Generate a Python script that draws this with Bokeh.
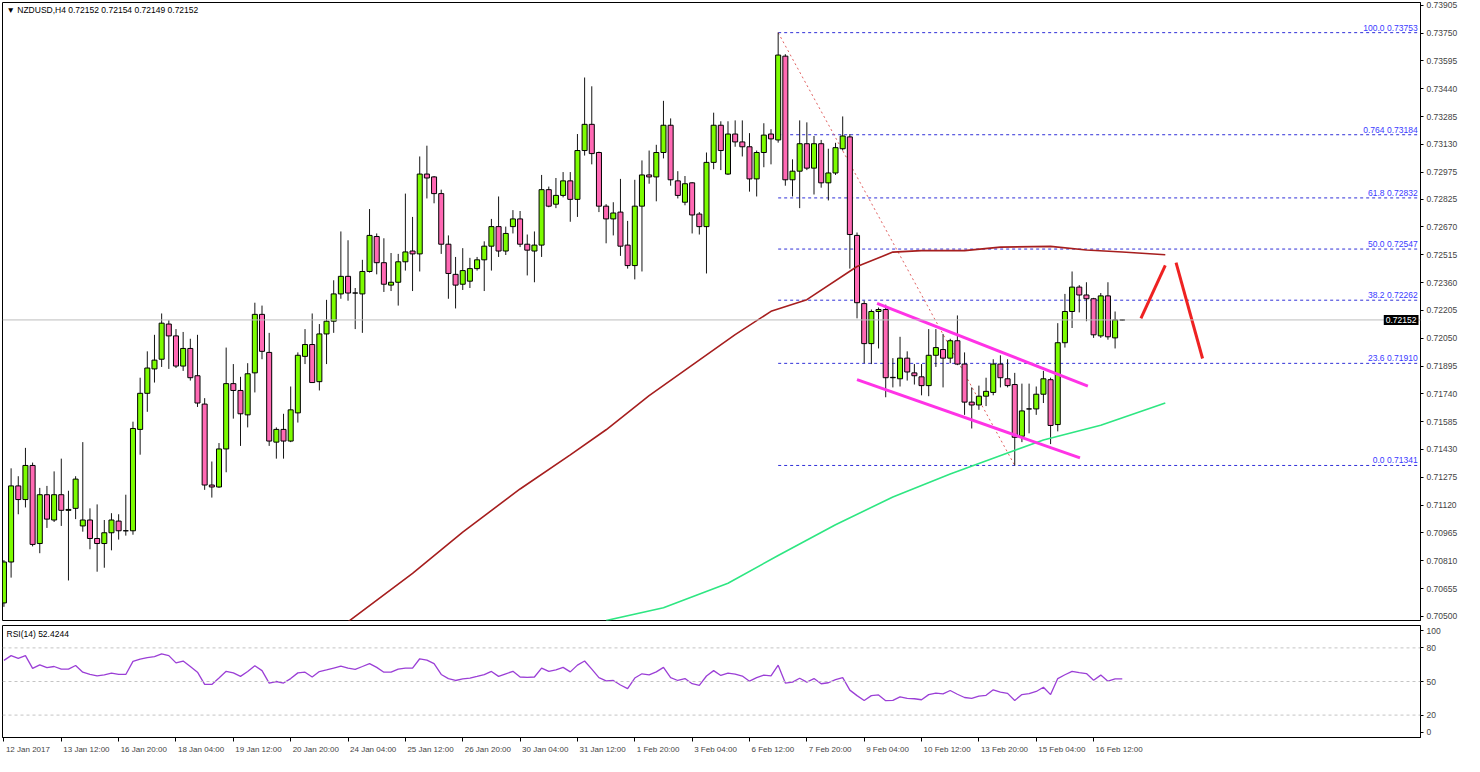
import numpy as np
from bokeh.plotting import figure
from bokeh.models import (ColumnDataSource, Range1d, FixedTicker, PrintfTickFormatter,
                          Label, Span)
from bokeh.layouts import column
from bokeh.embed import file_html
from bokeh.resources import INLINE
from bokeh.core.properties import value

# ---------------- data (prices in 1e-5 units) ----------------
OPEN_PTS = [70575, 70803, 71227, 71151, 71341, 70906, 71178, 71037, 71178, 71091,
            71102, 71004, 71037, 70934, 70906, 70966, 71031, 70977, 70977, 71542,
            71743, 71879, 71933, 72129, 72063, 71895, 71993, 71841, 71683, 71232,
            71221, 71433, 71797, 71759, 71623, 71857, 72183, 71971, 71471, 71542,
            71477, 71634, 71949, 72015, 71808, 72074, 72145, 72297, 72395, 72302,
            72297, 72422, 72617, 72471, 72346, 72362, 72476, 72536, 72520, 72965,
            72949, 72856, 72574, 72406, 72351, 72368, 72438, 72487, 72563, 72672,
            72536, 72672, 72715, 72574, 72536, 72569, 72878, 72797, 72846, 72927,
            72824, 73096, 73242, 73085, 72786, 72715, 72753, 72569, 72455, 72786,
            72960, 72949, 73085, 73237, 72927, 72808, 72916, 72742, 72672, 73030,
            73237, 72965, 73188, 73144, 73117, 72938, 73085, 73188, 73155, 73622,
            72933, 72981, 73134, 72998, 73134, 72916, 72971, 73106, 73172, 72623,
            72243, 72020, 72199, 72210, 71830, 71824, 71939, 71857, 71835, 71786,
            71955, 71987, 71939, 72036, 71906, 71694, 71678, 71727, 71748, 71906,
            71824, 71792, 71504, 71656, 71656, 71738, 71819, 71569, 72025, 72199,
            72335, 72291, 72270, 72063, 72286, 72052, 72152]
HIGH_PTS = [70814, 71325, 71281, 71439, 71357, 71216, 71227, 71308, 71379, 71200,
            71281, 71471, 71102, 71124, 71037, 71075, 71069, 71178, 71585, 71830,
            71977, 72069, 72188, 72150, 72101, 72085, 72047, 72069, 71716, 71363,
            71466, 71998, 71906, 71835, 71911, 72248, 72232, 72080, 71553, 71629,
            71781, 71971, 72101, 72188, 72129, 72264, 72373, 72645, 72596, 72330,
            72487, 72770, 72634, 72607, 72525, 72520, 72856, 72726, 73063, 73123,
            72954, 72878, 72623, 72503, 72552, 72498, 72503, 72590, 72715, 72840,
            72672, 72764, 72759, 72628, 72645, 72960, 72895, 72943, 72976, 72976,
            73188, 73503, 73454, 73090, 72797, 72808, 72938, 72704, 72933, 73041,
            73096, 73128, 73373, 73275, 72981, 72954, 72920, 72753, 73085, 73307,
            73259, 73259, 73264, 73264, 73193, 73096, 73248, 73215, 73753, 73633,
            73047, 73264, 73253, 73177, 73155, 73106, 73139, 73286, 73188, 72639,
            72259, 72210, 72221, 72237, 71939, 72058, 71977, 71906, 71906, 72101,
            72101, 72074, 72047, 72177, 71971, 71776, 71786, 71830, 71933, 71955,
            71933, 71857, 71797, 71797, 71781, 71868, 71830, 72134, 72297, 72422,
            72346, 72362, 72275, 72302, 72362, 72199, 72154]
LOW_PTS = [70553, 70716, 71069, 71107, 70890, 70852, 70993, 71026, 71004, 70700,
           71042, 70972, 70874, 70749, 70771, 70868, 70928, 70950, 70955, 71401,
           71640, 71803, 71890, 71879, 71884, 71868, 71814, 71667, 71205, 71162,
           71216, 71303, 71602, 71450, 71553, 71748, 71933, 71450, 71379, 71379,
           71471, 71580, 71906, 71803, 71759, 71906, 72080, 72270, 72259, 72101,
           72080, 72416, 72406, 72308, 72313, 72232, 72427, 72313, 72422, 72829,
           72802, 72520, 72270, 72216, 72319, 72330, 72427, 72313, 72427, 72503,
           72514, 72634, 72558, 72400, 72362, 72503, 72780, 72775, 72835, 72699,
           72726, 73068, 73019, 72753, 72579, 72623, 72509, 72438, 72378, 72422,
           72911, 72813, 73052, 72900, 72829, 72791, 72634, 72628, 72411, 72992,
           72987, 72960, 73117, 73063, 72867, 72840, 73003, 73019, 73140, 72900,
           72840, 72775, 72987, 72851, 72889, 72818, 72960, 73096, 72438, 72161,
           71911, 71906, 71993, 71721, 71776, 71781, 71814, 71792, 71732, 71727,
           71890, 71776, 71911, 71900, 71623, 71547, 71651, 71672, 71732, 71776,
           71776, 71341, 71471, 71520, 71623, 71689, 71460, 71531, 71998, 72107,
           72194, 72145, 72052, 72052, 72042, 71993, 72149]
CLOSE_PTS = [70803, 71227, 71151, 71341, 70901, 71178, 71042, 71178, 71091, 71096,
             71265, 71037, 70934, 70906, 70966, 71037, 70977, 70977, 71547, 71743,
             71884, 71928, 72134, 72063, 71895, 71993, 71830, 71689, 71232, 71221,
             71433, 71797, 71759, 71629, 71852, 72183, 71977, 71477, 71542, 71477,
             71651, 71955, 72015, 71803, 72074, 72145, 72297, 72395, 72302, 72302,
             72422, 72623, 72471, 72351, 72362, 72476, 72531, 72520, 72965, 72943,
             72856, 72574, 72411, 72346, 72427, 72438, 72487, 72563, 72672, 72536,
             72634, 72715, 72574, 72541, 72569, 72878, 72786, 72846, 72927, 72824,
             73096, 73242, 73079, 72786, 72715, 72748, 72563, 72455, 72786, 72960,
             72949, 73085, 73237, 72933, 72846, 72911, 72737, 72672, 73030, 73237,
             73096, 73188, 73144, 73117, 72938, 73085, 73182, 73161, 73628, 72933,
             72981, 73134, 72998, 73134, 72916, 72971, 73112, 73177, 72628, 72248,
             72020, 72199, 72210, 71830, 71832, 71939, 71862, 71841, 71786, 71955,
             71998, 71939, 72036, 71906, 71694, 71678, 71727, 71754, 71906, 71830,
             71786, 71498, 71645, 71656, 71738, 71824, 71564, 72025, 72199, 72335,
             72291, 72270, 72069, 72286, 72058, 72152, 72152]

RSI = [68.9, 73.1, 70.6, 73.1, 61.7, 64.9, 62.3, 63.4, 61.1, 61.1,
       64.3, 58.3, 56.3, 55.1, 56.0, 57.4, 56.3, 56.3, 68.0, 70.0,
       71.4, 72.3, 74.6, 73.1, 66.6, 68.3, 63.4, 58.3, 47.4, 47.4,
       53.1, 59.1, 57.7, 54.6, 58.9, 64.0, 59.7, 48.6, 50.0, 48.6,
       52.6, 57.7, 58.3, 54.0, 58.9, 60.3, 62.0, 63.7, 62.0, 60.9,
       63.4, 66.0, 62.6, 58.3, 58.3, 61.1, 62.0, 62.0, 70.3, 69.1,
       66.0, 56.3, 52.6, 50.9, 52.3, 53.1, 54.5, 56.2, 59.0, 54.6,
       56.9, 59.1, 54.0, 53.7, 54.0, 62.0, 59.1, 60.3, 62.6, 58.6,
       64.6, 68.3, 61.1, 53.4, 50.6, 50.9, 46.9, 43.7, 53.1, 56.9,
       56.0, 58.6, 62.6, 53.4, 50.9, 52.6, 48.0, 46.6, 54.9, 59.7,
       55.4, 57.4, 56.6, 54.9, 50.3, 53.4, 55.7, 55.1, 64.6, 48.6,
       49.4, 52.9, 49.4, 52.6, 48.0, 48.9, 51.7, 53.4, 42.3, 37.4,
       33.1, 37.4, 38.0, 32.9, 33.1, 36.3, 34.9, 34.6, 33.7, 38.3,
       39.7, 38.9, 42.0, 38.6, 35.7, 34.9, 36.9, 37.7, 42.6, 40.6,
       39.4, 33.1, 38.3, 39.1, 41.1, 44.9, 38.3, 52.6, 56.0, 59.1,
       58.0, 57.1, 51.1, 55.7, 50.3, 52.3, 52.4]

# moving averages, read at bar indices
MA_RED_IDX = [48, 57, 64, 72, 79, 84, 90, 96, 102, 107, 112, 119, 124, 128, 134, 139, 146, 151, 156, 162]
MA_RED_VAL = [0.70470, 0.70740, 0.70970, 0.71210, 0.71400, 0.71540, 0.71730, 0.71900, 0.72070, 0.72200,
              0.72265, 0.72450, 0.72530, 0.72538, 0.72538, 0.72558, 0.72562, 0.72542, 0.72531, 0.72515]
MA_GREEN_IDX = [84, 92, 101, 108, 116, 124, 132, 140, 145, 153, 162]
MA_GREEN_VAL = [0.70477, 0.70548, 0.70685, 0.70839, 0.71011, 0.71165, 0.71293, 0.71411, 0.71483, 0.71565, 0.71689]

# Fibonacci retracement (from swing high bar to swing low bar)
FIB_HIGH_IDX, FIB_LOW_IDX = 108, 141
FIB_LEVELS = [0.73753, 0.73184, 0.72832, 0.72547, 0.72262, 0.71910, 0.71341]
FIB_TEXT = ["100.0 0.73753", "0.764 0.73184", "61.8 0.72832", "50.0 0.72547",
            "38.2 0.72262", "23.6 0.71910", "0.0 0.71341"]

# channel and projection drawings (bar index, price)
CH_UP_IDX, CH_UP_VAL = [121.8, 151.2], [0.72244, 0.71783]
CH_LO_IDX, CH_LO_VAL = [119.0, 150.1], [0.71819, 0.71383]
ARROW1_IDX, ARROW1_VAL = [158.6, 162.0], [0.72161, 0.72456]
ARROW2_IDX, ARROW2_VAL = [163.5, 167.2], [0.72471, 0.71937]

LAST_PRICE = 0.72152
TITLE = "\u25BC NZDUSD,H4  0.72152 0.72154 0.72149 0.72152"
RSI_TITLE = "RSI(14) 52.4244"
PRICE_TICKS = [0.70500, 0.70655, 0.70810, 0.70965, 0.71120, 0.71275, 0.71430, 0.71585,
               0.71740, 0.71895, 0.72050, 0.72205, 0.72360, 0.72515, 0.72670, 0.72825,
               0.72975, 0.73130, 0.73285, 0.73440, 0.73595, 0.73750, 0.73905]
RSI_LEVELS = [20, 50, 80]

XLABEL_IDX = list(range(0, 153, 8))
XLABELS = ["12 Jan 2017", "13 Jan 12:00", "16 Jan 20:00", "18 Jan 04:00", "19 Jan 12:00",
           "20 Jan 20:00", "24 Jan 04:00", "25 Jan 12:00", "26 Jan 20:00", "30 Jan 04:00",
           "31 Jan 12:00", "1 Feb 20:00", "3 Feb 04:00", "6 Feb 12:00", "7 Feb 20:00",
           "9 Feb 04:00", "10 Feb 12:00", "13 Feb 20:00", "15 Feb 04:00", "16 Feb 12:00"]

# ---------------- build ----------------
FONT = "Liberation Sans"
BULL, BEAR = "#7CFC00", "#FF69B4"
X_START, X_END = -0.2, 197.6
Y_MIN, Y_MAX = 0.70477, 0.73921
FW = 1418
XLAB_SIZE = 8

o = np.array(OPEN_PTS) / 1e5
h = np.array(HIGH_PTS) / 1e5
l = np.array(LOW_PTS) / 1e5
c = np.array(CLOSE_PTS) / 1e5
idx = np.arange(len(o))
bull = c >= o
src = ColumnDataSource(dict(x=idx, top=np.maximum(o, c), bottom=np.minimum(o, c),
                            high=h, low=l, color=np.where(bull, BULL, BEAR)))

xr = Range1d(X_START, X_END)
p = figure(frame_width=FW, frame_height=618, x_range=xr, y_range=Range1d(Y_MIN, Y_MAX),
           output_backend="svg", toolbar_location=None, x_axis_location=None,
           y_axis_location="right", min_border_left=2, min_border_right=40,
           min_border_top=2, min_border_bottom=2)
p.grid.visible = False
p.outline_line_color = "black"
p.background_fill_color = "white"
p.border_fill_color = "white"
ya = p.yaxis[0]
ya.ticker = FixedTicker(ticks=PRICE_TICKS)
ya.formatter = PrintfTickFormatter(format="%.5f")
ya.major_tick_in = 0
ya.major_tick_out = 3
ya.minor_tick_line_color = None
ya.major_label_text_font = FONT
ya.major_label_text_font_size = "8.5px"
ya.major_label_standoff = 3
ya.axis_line_color = "black"

# current price line
p.add_layout(Span(location=LAST_PRICE, dimension="width", line_color="#bdbdbd", line_width=1))

# fib lines
for lv in FIB_LEVELS:
    p.line([FIB_HIGH_IDX, X_END], [lv, lv], line_color="#3030d8", line_dash="3 3", line_width=1)
p.text(x=[X_END - 0.4] * len(FIB_LEVELS), y=FIB_LEVELS, text=FIB_TEXT, text_align="right",
       text_baseline="bottom", text_color="#3a3aff", text_font=value(FONT),
       text_font_size="8.5px")
p.line([FIB_HIGH_IDX, FIB_LOW_IDX], [FIB_LEVELS[0], FIB_LEVELS[-1]], line_color="#e06060",
       line_dash="2 3", line_width=1)

# candles
p.segment(x0="x", y0="low", x1="x", y1="high", source=src, line_color="#151515", line_width=1)
p.vbar(x="x", width=0.7, top="top", bottom="bottom", fill_color="color", line_color="black",
       line_width=1, source=src)

# moving averages
p.line(MA_RED_IDX, MA_RED_VAL, line_color="#a61e1e", line_width=1.6)
p.line(MA_GREEN_IDX, MA_GREEN_VAL, line_color="#2ee682", line_width=1.6)

# channel + projections
p.line(CH_UP_IDX, CH_UP_VAL, line_color="#ff33e6", line_width=3)
p.line(CH_LO_IDX, CH_LO_VAL, line_color="#ff33e6", line_width=3)
p.line(ARROW1_IDX, ARROW1_VAL, line_color="#ee2222", line_width=3)
p.line(ARROW2_IDX, ARROW2_VAL, line_color="#ee2222", line_width=3)

p.add_layout(Label(x=X_START, y=Y_MAX, x_offset=4, y_offset=-2, text=TITLE,
                   text_baseline="top", text_align="left", text_font=FONT,
                   text_font_size="8.5px", text_color="black"))
# current price tag (kept inside the frame, at its right edge)
tag_kw = dict(x=X_END, y=LAST_PRICE, x_offset=-2, text="0.72152", text_baseline="middle",
              text_align="right", text_font=FONT, text_font_size="8.5px",
              text_color="white", background_fill_color="black", background_fill_alpha=1.0)
if "padding" in Label.properties():
    tag_kw["padding"] = 2
p.add_layout(Label(**tag_kw))

# ---------------- RSI panel ----------------
r = figure(frame_width=FW, frame_height=112, x_range=xr, y_range=Range1d(0, 100),
           output_backend="svg", toolbar_location=None, y_axis_location="right",
           min_border_left=2, min_border_right=40, min_border_top=3, min_border_bottom=16)
r.grid.visible = False
r.outline_line_color = "black"
ry = r.yaxis[0]
ry.ticker = FixedTicker(ticks=[4.8, 20, 50, 80, 95.4])
ry.major_label_overrides = {4.8: "0", 95.4: "100"}
ry.major_tick_in = 0
ry.major_tick_out = 3
ry.minor_tick_line_color = None
ry.major_label_text_font = FONT
ry.major_label_text_font_size = "8.5px"
ry.major_label_standoff = 3

# x axis: tick marks at the labelled bars (minor ticks), labels written just right of them
CHAR_EM = {" ": 0.278, ":": 0.278, "J": 0.5, "F": 0.611, "a": 0.556, "n": 0.556,
           "e": 0.556, "b": 0.556}
px_per_bar = FW / (X_END - X_START)


def label_center(i, s):
    w = sum(CHAR_EM.get(ch, 0.556) for ch in s) * XLAB_SIZE
    return round(i + (2 + w / 2) / px_per_bar, 4)


centers = [label_center(i, s) for i, s in zip(XLABEL_IDX, XLABELS)]
rx = r.xaxis[0]
rx.ticker = FixedTicker(ticks=centers, minor_ticks=XLABEL_IDX)
rx.major_label_overrides = {cx: s for cx, s in zip(centers, XLABELS)}
rx.major_tick_line_color = None
rx.major_tick_in = 0
rx.major_tick_out = 0
rx.minor_tick_in = 0
rx.minor_tick_out = 4
rx.minor_tick_line_color = "black"
rx.major_label_standoff = 3
rx.major_label_text_font = FONT
rx.major_label_text_font_size = f"{XLAB_SIZE}px"
rx.axis_line_color = "black"

for lv in RSI_LEVELS:
    r.add_layout(Span(location=lv, dimension="width", line_color="#c4c4c4",
                      line_dash="3 3", line_width=1))
r.line(idx, RSI, line_color="#9b3fd6", line_width=1.3)
r.add_layout(Label(x=X_START, y=100, x_offset=4, y_offset=-3, text=RSI_TITLE,
                   text_baseline="top", text_align="left", text_font=FONT,
                   text_font_size="8.5px", text_color="black"))

layout = column(p, r, spacing=0)
open("out.html", "w").write(file_html(layout, INLINE))
